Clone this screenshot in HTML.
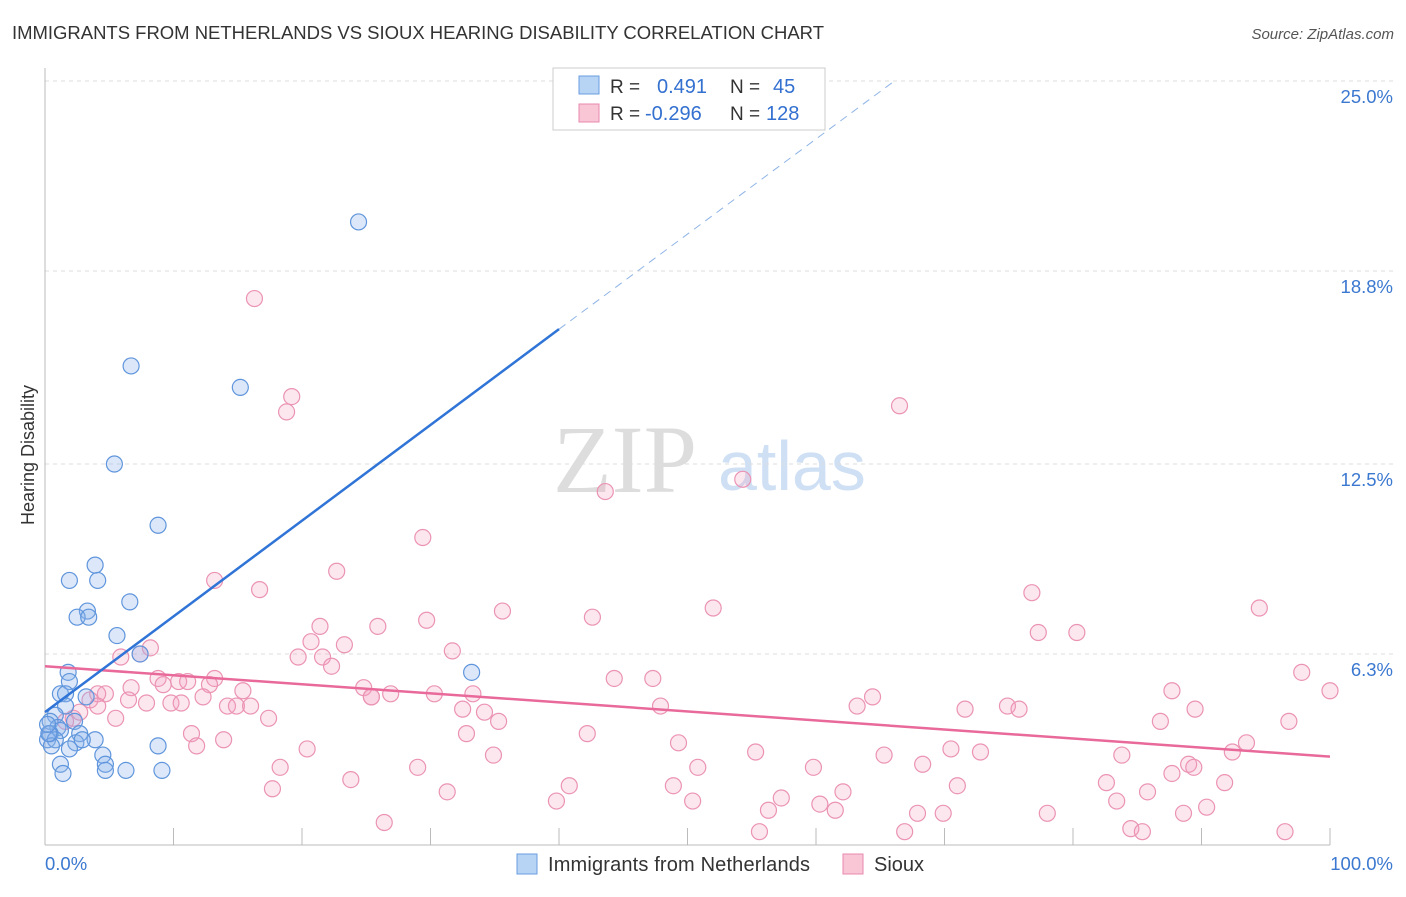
<!DOCTYPE html>
<html><head><meta charset="utf-8"><style>
body{margin:0;background:#fff;font-family:"Liberation Sans",sans-serif}
</style></head><body>
<svg width="1406" height="892" xmlns="http://www.w3.org/2000/svg" style="font-family:'Liberation Sans',sans-serif">
<text x="12" y="39" font-size="18.5" fill="#333" textLength="812">IMMIGRANTS FROM NETHERLANDS VS SIOUX HEARING DISABILITY CORRELATION CHART</text>
<text x="1394" y="39" font-size="15" fill="#555" text-anchor="end" font-style="italic">Source: ZipAtlas.com</text>
<g><text x="553" y="492" font-size="96" fill="#ddd" font-family="Liberation Serif">ZIP</text><text x="718" y="490" font-size="70" fill="#cfe0f5">atlas</text></g>
<g id="grid"></g>
<g id="axes"></g>
<text transform="translate(34,455) rotate(-90)" font-size="18" fill="#333" text-anchor="middle">Hearing Disability</text>
<g id="pts"></g>
<g id="lines"></g>
<g>
<rect x="553" y="68" width="272" height="62" fill="#fff" stroke="#ccc"/>
<rect x="579" y="76" width="20" height="18" fill="#b8d4f5" stroke="#6a9ce0"/>
<rect x="579" y="104" width="20" height="18" fill="#f9c6d6" stroke="#e88aae"/>
<text x="610" y="93" font-size="19" fill="#333">R =</text><text x="657" y="93" font-size="20" fill="#3370d0">0.491</text>
<text x="730" y="93" font-size="19" fill="#333">N =</text><text x="773" y="93" font-size="20" fill="#3370d0">45</text>
<text x="610" y="120" font-size="19" fill="#333">R =</text><text x="645" y="120" font-size="20" fill="#3370d0">-0.296</text>
<text x="730" y="120" font-size="19" fill="#333">N =</text><text x="766" y="120" font-size="20" fill="#3370d0">128</text>
</g>
<g>
<rect x="517" y="854" width="20" height="20" fill="#b8d4f5" stroke="#6a9ce0"/>
<text x="548" y="871" font-size="20" fill="#333" textLength="262">Immigrants from Netherlands</text>
<rect x="843" y="854" width="20" height="20" fill="#f9c6d6" stroke="#e88aae"/>
<text x="874" y="871" font-size="20" fill="#333">Sioux</text>
</g>
</svg>
<script>
const yTicks=[6.3,12.5,18.8,25.0];
const yTickLabels=["6.3%","12.5%","18.8%","25.0%"];
const blueX=[24.4,6.7,15.2,5.4,8.8,3.9,1.9,4.1,6.6,3.3,2.5,3.4,5.6,7.4,1.8,1.9,33.2,1.2,1.6,3.2,1.6,0.8,0.4,1.0,2.3,1.2,2.7,3.9,0.4,0.2,2.4,2.9,1.9,4.5,4.7,1.2,4.7,6.3,9.1,1.4,8.8,0.8,0.5,0.3,0.2];
const blueY=[20.4,15.7,15.0,12.5,10.5,9.2,8.7,8.7,8.0,7.7,7.5,7.5,6.9,6.3,5.7,5.4,5.7,5.0,5.0,4.9,4.6,4.3,4.1,3.9,4.1,3.8,3.7,3.5,3.7,3.5,3.4,3.5,3.2,3.0,2.7,2.7,2.5,2.5,2.5,2.4,3.3,3.5,3.3,3.7,4.0];
const pinkX=[16.3,19.2,18.8,66.5,43.6,54.3,29.4,22.7,13.2,16.7,76.8,94.5,35.6,52.0,42.6,29.7,25.9,21.4,77.3,80.3,20.7,23.3,8.2,5.9,7.4,19.7,21.6,22.3,31.7,97.8,8.8,10.4,13.2,11.1,12.8,6.7,9.2,15.4,24.8,26.9,25.4,30.3,33.3,44.3,47.3,87.7,100,4.7,4.1,3.5,6.5,7.9,9.8,10.6,12.3,14.2,14.9,16.0,25.4,32.5,34.2,35.3,47.9,63.2,64.4,71.6,74.9,75.8,89.5,86.8,96.8,5.5,2.2,1.6,17.4,11.4,13.9,11.8,20.4,32.8,42.2,49.3,55.3,65.3,70.5,72.8,93.5,92.4,83.8,34.9,18.3,29.0,50.8,59.8,68.3,89.0,89.4,87.7,23.8,17.7,31.3,40.8,48.9,71.0,82.6,85.8,91.8,39.8,50.4,57.3,60.3,62.1,83.4,90.4,56.3,61.5,67.9,78.0,88.6,69.9,26.4,55.6,66.9,84.5,85.4,96.5,4.1,2.7];
const pinkY=[17.9,14.7,14.2,14.4,11.6,12.0,10.1,9.0,8.7,8.4,8.3,7.8,7.7,7.8,7.5,7.4,7.2,7.2,7.0,7.0,6.7,6.6,6.5,6.2,6.3,6.2,6.2,5.9,6.4,5.7,5.5,5.4,5.5,5.4,5.3,5.2,5.3,5.1,5.2,5.0,4.9,5.0,5.0,5.5,5.5,5.1,5.1,5.0,5.0,4.8,4.8,4.7,4.7,4.7,4.9,4.6,4.6,4.6,4.9,4.5,4.4,4.1,4.6,4.6,4.9,4.5,4.6,4.5,4.5,4.1,4.1,4.2,4.2,4.1,4.2,3.7,3.5,3.3,3.2,3.7,3.7,3.4,3.1,3.0,3.2,3.1,3.4,3.1,3.0,3.0,2.6,2.6,2.6,2.6,2.7,2.7,2.6,2.4,2.2,1.9,1.8,2.0,2.0,2.0,2.1,1.8,2.1,1.5,1.5,1.6,1.4,1.8,1.5,1.3,1.2,1.2,1.1,1.1,1.1,1.1,0.8,0.5,0.5,0.6,0.5,0.5,4.6,4.4];
const blueLine=[[0,4.4],[40,16.9]];
const blueDash=[[40,16.9],[66.1,25.0]];
const pinkLine=[[0,5.9],[100,2.95]];
const NS="http://www.w3.org/2000/svg";
const X0=45,X1=1330,Y0=847,YS=30.64;
const sx=v=>X0+(X1-X0)*v/100, sy=v=>Y0-v*YS;
function mk(t,a,p){const e=document.createElementNS(NS,t);for(const k in a)e.setAttribute(k,a[k]);p.appendChild(e);return e;}
const grid=document.getElementById('grid'),axes=document.getElementById('axes');
yTicks.forEach((t,i)=>{
 const l=mk('line',{x1:X0,x2:1394,y1:sy(t),y2:sy(t),stroke:'#ddd','stroke-dasharray':'4,4'},grid);
 
 
 const tx=mk('text',{x:1393,y:sy(t)+22,'font-size':18.5,fill:'#3b78d0','text-anchor':'end'},axes);
 tx.textContent=yTickLabels[i];
 
 
});
mk('line',{x1:X0,x2:X0,y1:68,y2:845,stroke:'#bbb'},axes);
mk('line',{x1:X0,x2:X1,y1:845,y2:845,stroke:'#bbb'},axes);
for(let i=0;i<=10;i++){const t=mk('line',{x1:sx(i*10),x2:sx(i*10),y1:828,y2:845,stroke:'#bbb'},axes);

}
const a=mk('text',{x:45,y:870,'font-size':18.5,fill:'#3b78d0'},axes);a.textContent='0.0%';
const b=mk('text',{x:1393,y:870,'font-size':18.5,fill:'#3b78d0','text-anchor':'end'},axes);b.textContent='100.0%';
const pts=document.getElementById('pts');
pinkX.forEach((x,i)=>{const c=mk('circle',{cx:sx(x),cy:sy(pinkY[i]),r:8,fill:'rgba(244,160,190,0.25)',stroke:'#eb93b3','stroke-width':1.2},pts);

});
blueX.forEach((x,i)=>{const c=mk('circle',{cx:sx(x),cy:sy(blueY[i]),r:8,fill:'rgba(140,180,235,0.3)',stroke:'#5f95dc','stroke-width':1.2},pts);

});
const lines=document.getElementById('lines');
function ln(d,st,w,dash,n){const e=mk('line',{x1:sx(d[0][0]),y1:sy(d[0][1]),x2:sx(d[1][0]),y2:sy(d[1][1]),stroke:st,'stroke-width':w},lines);if(dash)e.setAttribute('stroke-dasharray',dash);

}
ln(pinkLine,'#e8699a',2.5,null,'sioux-trend-line');
ln(blueLine,'#2f74d6',2.5,null,'netherlands-trend-line');
ln(blueDash,'#8fb4e6',1,'8,6','netherlands-trend-extension');
</script>
</body></html>
